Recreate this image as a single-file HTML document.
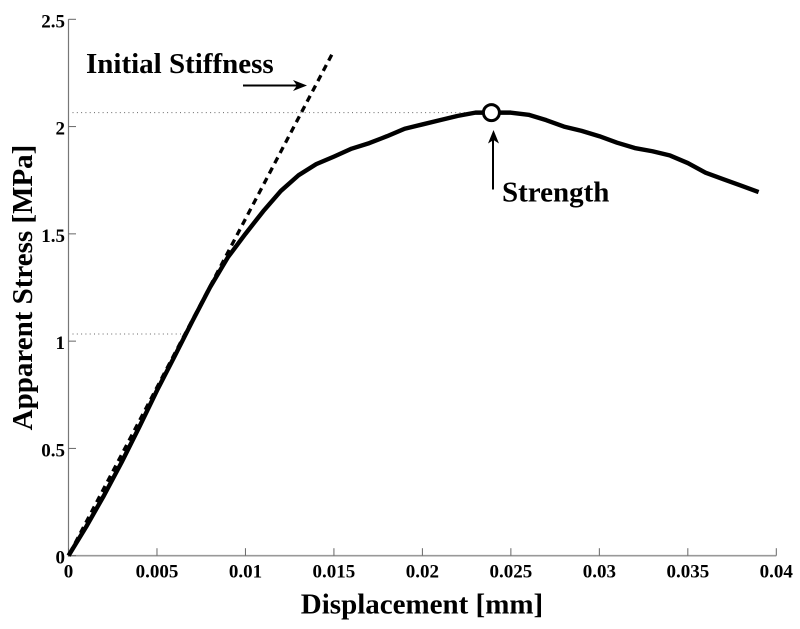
<!DOCTYPE html>
<html lang="en">
<head>
<meta charset="utf-8">
<title>Apparent Stress vs Displacement</title>
<style>
html,body{margin:0;padding:0;background:#fff;}
#wrap{width:800px;height:629px;overflow:hidden;}
svg{display:block;}
text{font-family:"Liberation Serif",serif;font-weight:bold;fill:#000;}
</style>
</head>
<body>
<div id="wrap">
<svg id="chart" width="800" height="629" viewBox="0 0 800 629" xmlns="http://www.w3.org/2000/svg"></svg>
</div>
<script>
const xTicks = [0, 0.005, 0.01, 0.015, 0.02, 0.025, 0.03, 0.035, 0.04];
const xTickLabels = ['0', '0.005', '0.01', '0.015', '0.02', '0.025', '0.03', '0.035', '0.04'];
const yTicks = [0, 0.5, 1, 1.5, 2, 2.5];
const yTickLabels = ['0', '0.5', '1', '1.5', '2', '2.5'];
const displacement = [0, 0.001, 0.002, 0.003, 0.004, 0.005, 0.006, 0.007, 0.008, 0.009, 0.01, 0.011, 0.012, 0.013, 0.014, 0.015, 0.016, 0.017, 0.018, 0.019, 0.02, 0.021, 0.022, 0.023, 0.024, 0.025, 0.026, 0.027, 0.028, 0.029, 0.03, 0.031, 0.032, 0.033, 0.034, 0.035, 0.036, 0.037, 0.038, 0.039];
const stress = [0, 0.135, 0.28, 0.435, 0.6, 0.77, 0.93, 1.093, 1.251, 1.39, 1.50, 1.605, 1.70, 1.773, 1.825, 1.86, 1.897, 1.923, 1.955, 1.99, 2.01, 2.03, 2.05, 2.065, 2.065, 2.065, 2.055, 2.03, 2.0, 1.98, 1.955, 1.925, 1.90, 1.885, 1.865, 1.83, 1.785, 1.755, 1.725, 1.695];
const stiffnessX = [0, 0.01489];
const stiffnessY = [0, 2.337];
const peakX = [0.0239];
const peakY = [2.065];
const halfPeakStress = [1.033];
const halfPeakEndX = [0.0065];

const NS = 'http://www.w3.org/2000/svg';
const svg = document.getElementById('chart');
const X0 = 68.5, X1 = 776.3, Y0 = 555.7, Y1 = 19.3;
const XMAX = 0.04, YMAX = 2.5;
function xScale(v) { return X0 + (v / XMAX) * (X1 - X0); }
function yScale(v) { return Y0 - (v / YMAX) * (Y0 - Y1); }

function make(tag, attrs, text) {
  const el = document.createElementNS(NS, tag);
  for (const k in attrs) el.setAttribute(k, attrs[k]);
  if (text !== undefined) el.textContent = text;
  svg.appendChild(el);
  return el;
}

// dotted guide lines
const guideTop = make('line', {x1: X0 + 4, x2: xScale(peakX[0]), y1: yScale(peakY[0]), y2: yScale(peakY[0]), stroke: '#666', 'stroke-width': 1, 'stroke-dasharray': '1 3.3'});


const guideHalf = make('line', {x1: X0 + 4, x2: xScale(halfPeakEndX[0]), y1: yScale(halfPeakStress[0]), y2: yScale(halfPeakStress[0]), stroke: '#666', 'stroke-width': 1, 'stroke-dasharray': '1 3.3'});



// axes
const yAxis = make('line', {x1: X0, x2: X0, y1: Y1, y2: Y0 + 1, stroke: '#777', 'stroke-width': 1.2});


const xAxis = make('line', {x1: X0, x2: X1, y1: Y0, y2: Y0, stroke: '#999', 'stroke-width': 1.6});



xTicks.forEach(function (t, i) {
  const px = xScale(t);
  const tick = make('line', {x1: px, x2: px, y1: Y0, y2: Y0 - 7.5, stroke: '#666', 'stroke-width': 1});
  
  
  const label = make('text', {x: px, y: 577.5, 'text-anchor': 'middle', 'font-size': 19}, xTickLabels[i]);
  
  
});

yTicks.forEach(function (t, i) {
  const py = yScale(t);
  const tick = make('line', {x1: X0, x2: X0 + 7.5, y1: py, y2: py, stroke: '#666', 'stroke-width': 1});
  
  
  const label = make('text', {x: 65, y: py + 8, 'text-anchor': 'end', 'font-size': 19}, yTickLabels[i]);
  
  
});

// initial stiffness dashed line
const stiffPts = stiffnessX.map(function (v, i) { return xScale(v) + ',' + yScale(stiffnessY[i]); }).join(' ');
const stiffLine = make('polyline', {points: stiffPts, fill: 'none', stroke: '#000', 'stroke-width': 3.3, 'stroke-dasharray': '6.6 5', 'stroke-dashoffset': 9.1});



// measured curve
const curvePts = displacement.map(function (v, i) { return xScale(v) + ',' + yScale(stress[i]); }).join(' ');
const curve = make('polyline', {points: curvePts, fill: 'none', stroke: '#000', 'stroke-width': 4.4, 'stroke-linejoin': 'round'});



// peak marker
const marker = make('circle', {cx: xScale(peakX[0]), cy: yScale(peakY[0]), r: 8, fill: '#fff', stroke: '#000', 'stroke-width': 3});



// annotation arrows
const arrowStiffLine = make('line', {x1: 243, x2: 300, y1: 85.5, y2: 85.5, stroke: '#000', 'stroke-width': 2});


const arrowStiffHead = make('path', {d: 'M307 85.5 L293 80 L297 85.5 L293 91 Z', fill: '#000'});


const arrowStrLine = make('line', {x1: 493, x2: 493, y1: 189.5, y2: 136, stroke: '#000', 'stroke-width': 2});


const arrowStrHead = make('path', {d: 'M493.5 130 L488 143.5 L493.5 140 L499 143.5 Z', fill: '#000'});



// annotation text and titles
const stiffText = make('text', {x: 86, y: 73, 'font-size': 29}, 'Initial Stiffness');


const strText = make('text', {x: 502, y: 201.5, 'font-size': 29}, 'Strength');


const xTitle = make('text', {x: 422, y: 613.5, 'text-anchor': 'middle', 'font-size': 29}, 'Displacement [mm]');


const yTitle = make('text', {x: 0, y: 0, 'text-anchor': 'middle', 'font-size': 29, transform: 'translate(32 287.5) rotate(-90)'}, 'Apparent Stress [MPa]');


</script>
</body>
</html>
